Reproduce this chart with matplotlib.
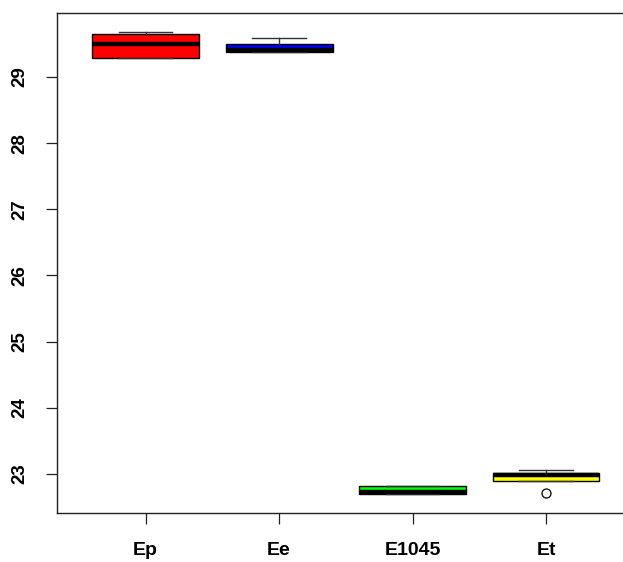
import matplotlib.pyplot as plt

# values (R style boxplot)
groups = ['Ep', 'Ee', 'E1045', 'Et']
q1 = [29.28, 29.38, 22.70, 22.90]
med = [29.49, 29.405, 22.725, 22.985]
q3 = [29.645, 29.49, 22.82, 23.01]
whislo = [29.28, 29.38, 22.70, 22.90]
whishi = [29.68, 29.585, 22.82, 23.065]
fliers = [[], [], [], [22.71]]
colors = ['#ff0000', '#0000ff', '#00ff00', '#ffff00']
yticks = [23, 24, 25, 26, 27, 28, 29]

plt.rcParams['font.family'] = ['Liberation Sans', 'DejaVu Sans']

W, H = 623, 562
fig = plt.figure(figsize=(W / 100, H / 100), dpi=100)
ax = fig.add_axes([57.5 / W, 1 - 512.7 / H, 576.7 / W, (512.7 - 12.7) / H])

stats = []
for i, g in enumerate(groups):
    stats.append(dict(label=g, q1=q1[i], med=med[i], q3=q3[i],
                      whislo=whislo[i], whishi=whishi[i], fliers=fliers[i]))

bp = ax.bxp(stats, positions=range(1, len(groups) + 1), widths=0.8,
            capwidths=0.4, patch_artist=True, showfliers=True,
            boxprops=dict(linewidth=1.0, edgecolor='black'),
            medianprops=dict(color='black', linewidth=3.2, solid_capstyle='butt'),
            whiskerprops=dict(color='#333333', linewidth=1.0),
            capprops=dict(color='#333333', linewidth=1.0),
            flierprops=dict(marker='o', markerfacecolor='white',
                            markeredgecolor='black', markersize=6.5,
                            markeredgewidth=0.9))
for patch, c in zip(bp['boxes'], colors):
    patch.set_facecolor(c)

ax.set_xlim(0.34, 4.66)
ax.set_ylim(22.415, 29.97)
ax.set_yticks(yticks)
ax.set_yticklabels([str(v) for v in yticks], rotation=90, va='center',
                   fontsize=13.5, fontweight='bold')
ax.set_xticks(range(1, len(groups) + 1))
ax.set_xticklabels(groups, fontsize=14, fontweight='bold')
ax.tick_params(axis='both', direction='out', length=7.7, width=0.9, color='#222222')
ax.tick_params(axis='y', pad=13)
ax.tick_params(axis='x', pad=13.5)
for s in ax.spines.values():
    s.set_linewidth(1.0)
    s.set_color('#222222')

fig.savefig('out.png', dpi=100)
